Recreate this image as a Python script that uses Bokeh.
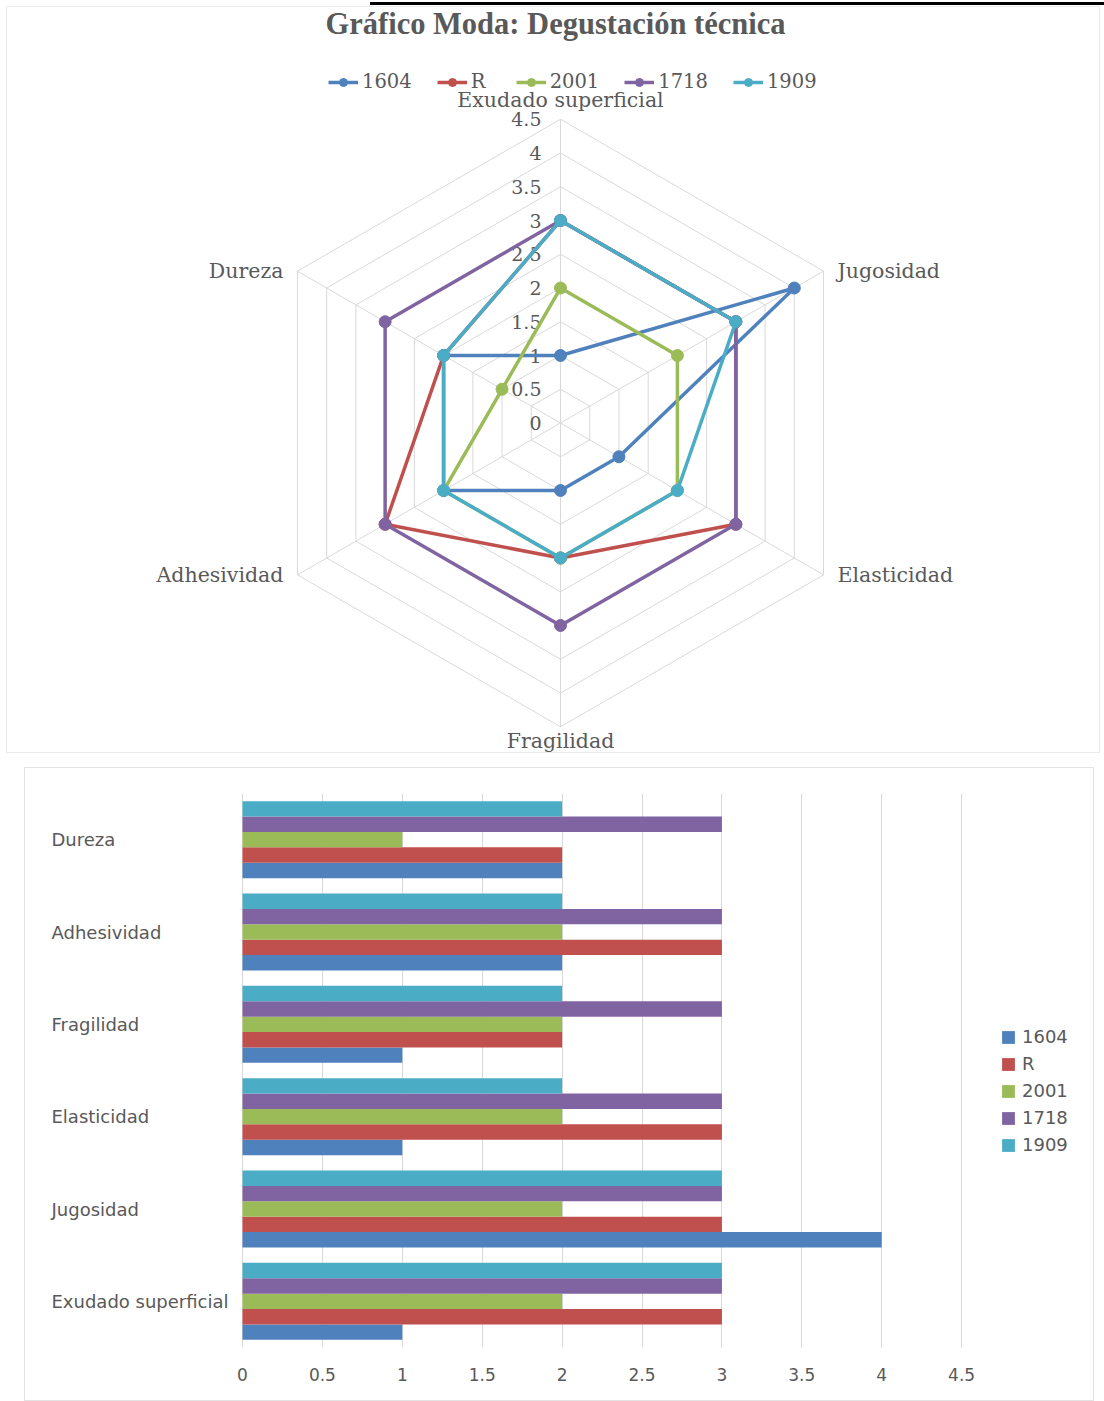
import math
from bokeh.plotting import figure
from bokeh.models import (ColumnDataSource, FactorRange, Range1d, Legend, LegendItem,
                          FixedTicker, Div)
from bokeh.layouts import column
from bokeh.transform import dodge
from bokeh.core.properties import value
from bokeh.embed import file_html
from bokeh.resources import INLINE

# ---------------- data ----------------
categories = ["Exudado superficial", "Jugosidad", "Elasticidad",
              "Fragilidad", "Adhesividad", "Dureza"]
series_names = ["1604", "R", "2001", "1718", "1909"]
s1604 = [1, 4, 1, 1, 2, 2]
sR = [3, 3, 3, 2, 3, 2]
s2001 = [2, 2, 2, 2, 2, 1]
s1718 = [3, 3, 3, 3, 3, 3]
s1909 = [3, 3, 2, 2, 2, 2]
series_values = [s1604, sR, s2001, s1718, s1909]
axis_ticks = [0, 0.5, 1, 1.5, 2, 2.5, 3, 3.5, 4, 4.5]
title_text = "Gráfico Moda: Degustación técnica"

colors = ["#4F81BD", "#C0504D", "#9BBB59", "#8064A2", "#4BACC6"]
GREY_TXT = "#595959"
GRID = "#d9d9d9"


def fmt(t):
    return f"{t:g}"


# ---------------- radar (top) ----------------
W1, H1 = 1092, 745
S = 67.5                     # pixels per unit
cx, cy = 553.0, 415.5        # centre inside the figure
rmax = axis_ticks[-1]

top = figure(width=W1, height=H1, output_backend="svg", toolbar_location=None,
             x_range=Range1d(-cx / S, (W1 - cx) / S),
             y_range=Range1d(-(H1 - cy) / S, cy / S),
             min_border=0, margin=(2, 0, 0, 7),
             styles={"outline": "1px solid #ebebeb"})
top.axis.visible = False
top.grid.visible = False
top.outline_line_color = None
top.background_fill_color = "white"

angles = [math.radians(90 - 60 * i) for i in range(len(categories))]


def polar(vals):
    return [v * math.cos(a) for v, a in zip(vals, angles)], \
           [v * math.sin(a) for v, a in zip(vals, angles)]


# hexagonal grid
hx, hy = [], []
for t in axis_ticks[1:]:
    xs, ys = polar([t] * len(categories))
    hx.append(xs + xs[:1])
    hy.append(ys + ys[:1])
top.multi_line(hx, hy, line_color=GRID, line_width=1)
sx, sy = polar([rmax] * len(categories))
top.segment(x0=[0] * len(sx), y0=[0] * len(sy), x1=sx, y1=sy,
            line_color=GRID, line_width=1)

# radial tick labels
top.text(x=[0] * len(axis_ticks), y=axis_ticks, text=[fmt(t) for t in axis_ticks],
         x_offset=-19, text_align="right", text_baseline="middle",
         text_font=value("DejaVu Serif"), text_font_size="19px", text_color=GREY_TXT)

# category labels
lab_font = dict(text_font=value("DejaVu Serif"), text_font_size="20.5px",
                text_color=GREY_TXT, text_baseline="middle")
vx, vy = polar([rmax] * len(categories))
ci = [0, 3]
top.text(x=[vx[i] for i in ci], y=[vy[i] for i in ci], text=[categories[i] for i in ci],
         y_offset=[-19, 14], text_align="center", **lab_font)
li = [1, 2]
top.text(x=[vx[i] for i in li], y=[vy[i] for i in li], text=[categories[i] for i in li],
         x_offset=14, text_align="left", **lab_font)
ri = [4, 5]
top.text(x=[vx[i] for i in ri], y=[vy[i] for i in ri], text=[categories[i] for i in ri],
         x_offset=-14, text_align="right", **lab_font)

# title
top.text(x=[(555 - 7 - cx) / S], y=[(cy - (23 - 7)) / S], text=[title_text],
         text_align="center", text_baseline="middle",
         text_font=value("Liberation Serif"), text_font_style="bold",
         text_font_size="30.5px", text_color=GREY_TXT)

# series
top_items = []
for name, vals, col in zip(series_names, series_values, colors):
    xs, ys = polar(vals)
    lr = top.line(xs + xs[:1], ys + ys[:1], line_color=col, line_width=3.5)
    sr = top.scatter(xs, ys, size=12, fill_color=col, line_color=col, marker="circle")
    top_items.append(LegendItem(label=name, renderers=[lr, sr]))

leg1 = Legend(items=top_items, orientation="horizontal", location=(321, 659),
              glyph_width=30, glyph_height=20, label_height=20, label_standoff=4,
              spacing=25, padding=0, margin=0, border_line_color=None,
              background_fill_alpha=0,
              label_text_font="DejaVu Serif", label_text_font_size="19.5px",
              label_text_color=GREY_TXT)
top.add_layout(leg1)

# ---------------- bar chart (bottom) ----------------
W2, H2 = 1068, 632
PX = 159.8                      # pixels per unit
zero_px = 242 - 25              # position of 0 inside the figure
xb_start = -zero_px / PX
xb_end = (W2 - zero_px) / PX
SANS = "DejaVu Sans"

bot = figure(width=W2, height=H2, output_backend="svg", toolbar_location=None,
             y_range=FactorRange(factors=categories, range_padding=0),
             x_range=Range1d(xb_start, xb_end),
             min_border_left=0, min_border_right=0,
             min_border_top=25, min_border_bottom=53,
             margin=(16, 0, 0, 25),
             styles={"outline": "1px solid #e3e3e3"})
bot.outline_line_color = None
bot.yaxis.visible = False
bot.ygrid.visible = False
bot.xaxis.ticker = FixedTicker(ticks=axis_ticks)
bot.xgrid.ticker = FixedTicker(ticks=axis_ticks)
bot.xgrid.grid_line_color = GRID
bot.xaxis.major_label_overrides = {t: fmt(t) for t in axis_ticks}
bot.xaxis.axis_line_color = None
bot.xaxis.major_tick_line_color = None
bot.xaxis.minor_tick_line_color = None
bot.xaxis.major_label_standoff = 14
bot.xaxis.major_label_text_font = SANS
bot.xaxis.major_label_text_font_size = "17px"
bot.xaxis.major_label_text_color = GREY_TXT

band = 0.8333
bh = band / len(series_names)
offsets = [(i - (len(series_names) - 1) / 2) * bh for i in range(len(series_names))]

bot_items = []
for name, vals, col, off in zip(series_names, series_values, colors, offsets):
    src = ColumnDataSource(dict(cat=categories, val=vals))
    r = bot.hbar(y=dodge("cat", off, range=bot.y_range), left=0, right="val",
                 height=bh, source=src, fill_color=col, line_color=None)
    bot_items.append(LegendItem(label=name, renderers=[r]))

# category labels (left aligned, like the original)
bot.text(x=[xb_start] * len(categories), y=categories, text=categories,
         x_offset=26, text_align="left", text_baseline="middle",
         text_font=value(SANS), text_font_size="18px", text_color=GREY_TXT)

leg2 = Legend(items=bot_items, orientation="vertical", location=(975, 192),
              glyph_width=16, glyph_height=16, label_height=20, label_standoff=6,
              spacing=6, padding=0, margin=0, border_line_color=None,
              background_fill_alpha=0,
              label_text_font=SANS, label_text_font_size="18px",
              label_text_color=GREY_TXT)
bot.add_layout(leg2)

bar_line = Div(text="", width=734, height=3, margin=(2, 0, 0, 370),
               styles={"background-color": "#000000"})

layout = column(bar_line, top, bot, spacing=0)

open("out.html", "w").write(file_html(layout, INLINE))
